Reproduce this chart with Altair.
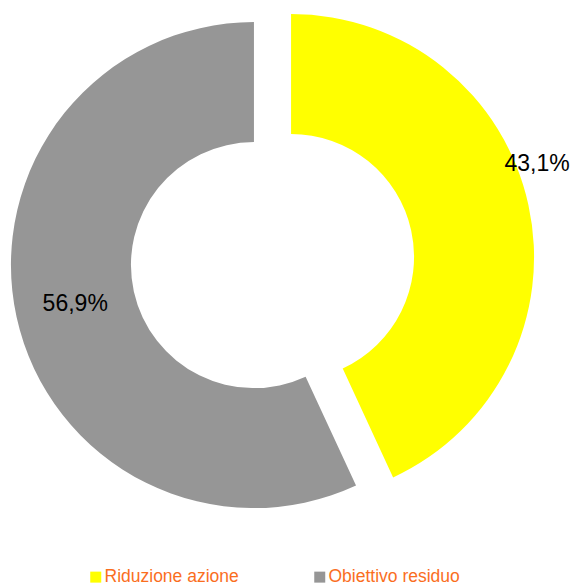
import altair as alt
import pandas as pd

categories = ["Riduzione azione", "Obiettivo residuo"]
values = [43.1, 56.9]
colors = ["#FFFF00", "#969696"]

df = pd.DataFrame({"categoria": categories, "valore": values, "ordine": [1, 2]})

CX, CY = 264.5, 253.0   # donut centre (plot coords)
EXPLODE = 19            # explosion distance
R_OUT, R_IN = 243, 123

base = alt.Chart(df).transform_window(
    cum="sum(valore)", sort=[alt.SortField("ordine")], frame=[None, 0]
).transform_joinaggregate(
    tot="sum(valore)"
).transform_calculate(
    t0="2*PI*(datum.cum - datum.valore)/datum.tot",
    t1="2*PI*datum.cum/datum.tot",
).transform_calculate(
    mid="(datum.t0 + datum.t1)/2",
).transform_calculate(
    cx=f"{CX} + {EXPLODE}*sin(datum.mid)",
    cy=f"{CY} - {EXPLODE}*cos(datum.mid)",
    lr="datum.ordine == 1 ? 263 : 183",
    la="datum.ordine == 1 ? datum.mid - 0.145 : datum.mid",
    etichetta="replace(format(datum.valore, '.1f'), '.', ',') + '%'",
).transform_calculate(
    lx="datum.cx + datum.lr*sin(datum.la)",
    ly="datum.cy - datum.lr*cos(datum.la)",
)

arcs = base.mark_arc(radius=R_OUT, radius2=R_IN, stroke=None).encode(
    theta=alt.Theta("t0:Q", scale=None),
    theta2="t1:Q",
    x=alt.X("cx:Q", scale=None),
    y=alt.Y("cy:Q", scale=None),
    color=alt.Color(
        "categoria:N",
        scale=alt.Scale(domain=categories, range=colors),
        sort=categories,
        legend=alt.Legend(
            title=None,
            orient="none",
            legendX=79,
            legendY=560,
            direction="horizontal",
            symbolType="square",
            symbolSize=121,
            symbolStrokeWidth=0,
            symbolOpacity=1,
            labelFont="Liberation Sans",
            labelFontSize=17.5,
            labelColor="#FA6E1E",
            labelOffset=0,
            columnPadding=72,
        ),
    ),
)

labels = base.mark_text(
    font="Liberation Sans", fontSize=23, color="#000000", align="center", baseline="middle"
).encode(
    x=alt.X("lx:Q", scale=None),
    y=alt.Y("ly:Q", scale=None),
    text="etichetta:N",
)

chart = (arcs + labels).properties(
    width=563, height=577, padding=0, autosize=alt.AutoSizeParams(type="none")
).configure_view(stroke=None)

chart.save("out.html", embed_options={"renderer": "svg", "actions": False})
